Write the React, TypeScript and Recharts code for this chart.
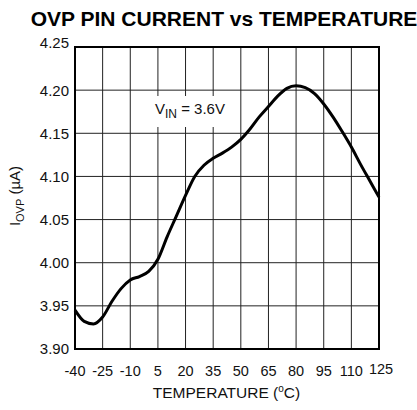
import { LineChart, Line, XAxis, YAxis, CartesianGrid, ReferenceArea } from 'recharts';

const temperatures = [-40, -35, -30, -25, -20, -15, -10, -5, 0, 5, 10, 15, 20, 25, 30, 35, 40, 45, 50, 55, 60, 65, 70, 75, 80, 85, 90, 95, 100, 105, 110, 115, 120, 125];
const ovpCurrent = [
  3.945, 3.932, 3.929, 3.937, 3.955, 3.970, 3.980, 3.984, 3.990, 4.004,
  4.030, 4.054, 4.078, 4.100, 4.113, 4.121, 4.127, 4.134, 4.143, 4.155,
  4.169, 4.181, 4.193, 4.202, 4.205, 4.203, 4.196, 4.184, 4.169, 4.152,
  4.134, 4.114, 4.095, 4.076,
];
const xTicks = [-40, -25, -10, 5, 20, 35, 50, 65, 80, 95, 110, 125];
const yTicks = [3.9, 3.95, 4.0, 4.05, 4.1, 4.15, 4.2, 4.25];

const data = temperatures.map((t, i) => ({ t, v: ovpCurrent[i] }));

const FONT = 'Liberation Sans, Arial, Helvetica, sans-serif';

const XTick = (props: any) => {
  const { x, y, payload } = props;
  const last = payload.value === 125;
  return (
    <text x={x + (last ? 2 : 0)} y={y + (last ? 25 : 27)} textAnchor="middle" fontSize={14.5} fontFamily={FONT} fill="#111">
      {payload.value}
    </text>
  );
};

const YTick = (props: any) => {
  const { x, y, payload } = props;
  const top = payload.value === 4.25;
  return (
    <text x={x} y={y + 5.4 - (top ? 4 : 0)} textAnchor="end" fontSize={15} fontFamily={FONT} fill="#111">
      {payload.value.toFixed(2)}
    </text>
  );
};

export default function App() {
  return (
    <div style={{ position: 'absolute', left: 0, top: 0, width: 417, height: 410, background: '#fff' }}>
      <LineChart width={417} height={410} data={data} margin={{ top: 47, right: 38, bottom: 31, left: 15 }}>
        <CartesianGrid stroke="#222" strokeWidth={1} />
        <XAxis
          dataKey="t"
          type="number"
          domain={[-40, 125]}
          ticks={xTicks}
          interval={0}
          axisLine={false}
          tickLine={false}
          tickSize={0}
          tickMargin={0}
          height={30}
          tick={<XTick />}
        />
        <YAxis
          type="number"
          domain={[3.9, 4.25]}
          ticks={yTicks}
          interval={0}
          axisLine={false}
          tickLine={false}
          tickSize={0}
          tickMargin={6}
          width={60}
          tick={<YTick />}
        />
        <ReferenceArea x1={-40} x2={125} y1={3.9} y2={4.25} fill="none" stroke="#000" strokeWidth={2} ifOverflow="visible" />
        <Line type="monotone" dataKey="v" stroke="#000" strokeWidth={3} dot={false} isAnimationActive={false} />
      </LineChart>
      <svg width={417} height={410} style={{ position: 'absolute', left: 0, top: 0, pointerEvents: 'none' }}>
        <text x={224} y={26} textAnchor="middle" fontSize={21} fontWeight="bold" fontFamily={FONT} fill="#000">
          OVP PIN CURRENT vs TEMPERATURE
        </text>
        <rect x={148} y={96} width={88} height={31} fill="#fff" />
        <text x={155} y={113.5} fontSize={15} fontFamily={FONT} fill="#111">
          V<tspan fontSize={12} dy={4}>IN</tspan>
          <tspan dy={-4}> = 3.6V</tspan>
        </text>
        <text x={226.5} y={398} textAnchor="middle" fontSize={15.5} fontFamily={FONT} fill="#111">
          TEMPERATURE (<tspan fontSize={10} dy={-6}>o</tspan><tspan dy={6}>C)</tspan>
        </text>
        <text transform="translate(20,196) rotate(-90)" textAnchor="middle" fontSize={15} fontFamily={FONT} fill="#111">
          I<tspan fontSize={11} dy={4}>OVP</tspan>
          <tspan dy={-4}> (µA)</tspan>
        </text>
      </svg>
    </div>
  );
}
